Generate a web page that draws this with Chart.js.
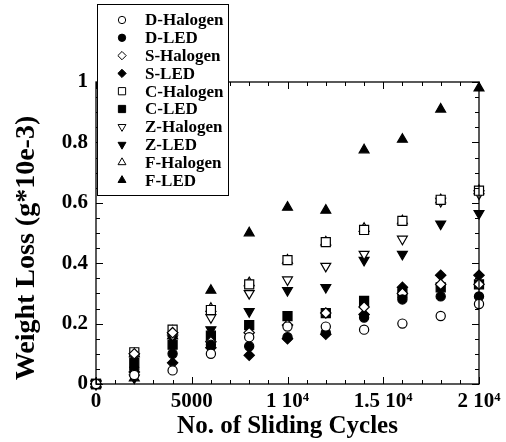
<!DOCTYPE html>
<html lang="en">
<head>
<meta charset="UTF-8">
<title>Weight Loss vs Sliding Cycles</title>
<script src="https://cdn.jsdelivr.net/npm/chart.js"></script>
<style>
  body { margin: 0; background: #fff; }
  #wrap { width: 506px; height: 442px; }
</style>
</head>
<body>
<div id="wrap"><canvas id="chart" width="506" height="442"></canvas></div>
<script>
// sliding cycles (x)
var cycles = [0, 2000, 4000, 6000, 8000, 10000, 12000, 14000, 16000, 18000, 20000];

// weight loss (g*10e-3)
var dHalogen = [0, 0.03, 0.045, 0.10, 0.155, 0.19, 0.19, 0.18, 0.20, 0.225, 0.265];
var dLed     = [0, 0.05, 0.10, 0.13, 0.125, 0.155, 0.17, 0.22, 0.28, 0.29, 0.29];
var sHalogen = [0, 0.10, 0.17, 0.14, 0.17, 0.195, 0.235, 0.255, 0.30, 0.33, 0.33];
var sLed     = [0, 0.04, 0.07, 0.12, 0.095, 0.15, 0.165, 0.23, 0.32, 0.36, 0.36];
var cHalogen = [0, 0.105, 0.18, 0.245, 0.33, 0.41, 0.47, 0.51, 0.54, 0.61, 0.64];
var cLed     = [0, 0.07, 0.13, 0.16, 0.195, 0.225, 0.235, 0.275, 0.30, 0.32, 0.33];
var zHalogen = [0, 0.09, 0.16, 0.22, 0.30, 0.345, 0.39, 0.43, 0.48, 0.605, 0.63];
var zLed     = [0, 0.02, 0.15, 0.18, 0.24, 0.31, 0.32, 0.41, 0.43, 0.53, 0.565];
var fHalogen = [0, 0.10, 0.175, 0.25, 0.335, 0.41, 0.47, 0.515, 0.54, 0.61, 0.64];
var fLed     = [0, 0.02, 0.16, 0.31, 0.50, 0.585, 0.575, 0.775, 0.81, 0.91, 0.98];

var seriesNames = ['D-Halogen', 'D-LED', 'S-Halogen', 'S-LED', 'C-Halogen', 'C-LED',
                   'Z-Halogen', 'Z-LED', 'F-Halogen', 'F-LED'];
var seriesValues = [dHalogen, dLed, sHalogen, sLed, cHalogen, cLed, zHalogen, zLed, fHalogen, fLed];

var xTicks = [0, 5000, 10000, 15000, 20000];
var xTickLabels = ['0', '5000', '1 10\u2074', '1.5 10\u2074', '2 10\u2074'];
var yTicks = [0, 0.2, 0.4, 0.6, 0.8, 1];
var yTickLabels = ['0', '0.2', '0.4', '0.6', '0.8', '1'];

// marker look per series: [pointStyle, rotation, filled, radius]
var markers = [
  ['circle', 0, false, 4.6], ['circle', 0, true, 4.6],
  ['rectRot', 0, false, 5.2], ['rectRot', 0, true, 5.2],
  ['rect', 0, false, 6.4], ['rect', 0, true, 6.4],
  ['triangle', 180, false, 5.7], ['triangle', 180, true, 5.7],
  ['triangle', 0, false, 5.7], ['triangle', 0, true, 5.7]
];

var serif = "'Liberation Serif', 'Times New Roman', serif";

var datasets = seriesNames.map(function (name, i) {
  var m = markers[i];
  return {
    label: name,
    data: cycles.map(function (c, j) { return { x: c, y: seriesValues[i][j] }; }),
    pointStyle: m[0],
    pointRotation: m[1],
    pointRadius: m[3],
    pointBorderWidth: 1.2,
    pointBorderColor: '#000',
    pointBackgroundColor: m[2] ? '#000' : '#fff',
    showLine: false,
    clip: false
  };
});

// little marker painter for the legend box
function drawMarker(ctx, style, rot, filled, x, y, r) {
  ctx.save();
  ctx.translate(x, y);
  ctx.rotate(rot * Math.PI / 180);
  ctx.beginPath();
  if (style === 'circle') {
    ctx.arc(0, 0, r, 0, Math.PI * 2);
  } else if (style === 'rect') {
    var s = r * Math.SQRT1_2;
    ctx.rect(-s, -s, 2 * s, 2 * s);
  } else if (style === 'rectRot') {
    ctx.moveTo(0, -r); ctx.lineTo(r, 0); ctx.lineTo(0, r); ctx.lineTo(-r, 0); ctx.closePath();
  } else {
    ctx.moveTo(0, -r);
    ctx.lineTo(r * Math.cos(Math.PI / 6), r / 2);
    ctx.lineTo(-r * Math.cos(Math.PI / 6), r / 2);
    ctx.closePath();
  }
  ctx.fillStyle = filled ? '#000' : '#fff';
  ctx.fill();
  ctx.lineWidth = 1;
  ctx.strokeStyle = '#000';
  ctx.stroke();
  ctx.restore();
}

var framePlugin = {
  id: 'frame',
  afterDraw: function (chart) {
    var ctx = chart.ctx, a = chart.chartArea;
    var xs = chart.scales.x, ys = chart.scales.y;
    ctx.save();
    ctx.strokeStyle = '#000';
    ctx.lineWidth = 1.3;
    ctx.strokeRect(a.left, a.top, a.right - a.left, a.bottom - a.top);

    ctx.lineWidth = 1;
    ctx.beginPath();
    for (var i = 0; i <= 20; i++) {
      var px = Math.round(xs.getPixelForValue(i * 1000)) + 0.5;
      var len = (i % 5 === 0) ? 7 : 4;
      ctx.moveTo(px, a.bottom); ctx.lineTo(px, a.bottom - len);
      ctx.moveTo(px, a.top); ctx.lineTo(px, a.top + len);
    }
    for (var k = 0; k <= 20; k++) {
      var py = Math.round(ys.getPixelForValue(k * 0.05)) + 0.5;
      var l2 = (k % 4 === 0) ? 7 : 4;
      ctx.moveTo(a.left, py); ctx.lineTo(a.left + l2, py);
      ctx.moveTo(a.right, py); ctx.lineTo(a.right - l2, py);
    }
    ctx.stroke();

    // y axis title, centred a little below the plot middle like the original
    ctx.save();
    ctx.translate(27, 248);
    ctx.rotate(-Math.PI / 2);
    ctx.fillStyle = '#000';
    ctx.font = 'bold 28px ' + serif;
    ctx.textAlign = 'center';
    ctx.textBaseline = 'middle';
    ctx.fillText('Weight Loss (g*10e-3)', 0, 0);
    ctx.restore();

    // legend box (sits over the top-left of the frame)
    var bx = 97, by = 4, bw = 131, rowH = 17.8;
    var bh = 191;
    ctx.fillStyle = '#fff';
    ctx.fillRect(bx, by, bw, bh);
    ctx.lineWidth = 1;
    ctx.strokeRect(bx + 0.5, by + 0.5, bw, bh);
    ctx.font = 'bold 17px ' + serif;
    ctx.textBaseline = 'middle';
    seriesNames.forEach(function (name, i) {
      var m = markers[i];
      var cy = by + 16 + i * rowH;
      drawMarker(ctx, m[0], m[1], m[2], 122, cy, m[3] * 0.8);
      ctx.fillStyle = '#000';
      ctx.fillText(name, 145, cy + 1);
    });
    ctx.restore();
  }
};

new Chart(document.getElementById('chart'), {
  type: 'scatter',
  data: { datasets: datasets },
  options: {
    responsive: false,
    animation: false,
    layout: { padding: { left: 0, right: 27, top: 82, bottom: 0 } },
    plugins: { legend: { display: false }, tooltip: { enabled: false } },
    scales: {
      x: {
        type: 'linear',
        min: 0,
        max: 20000,
        afterFit: function (s) { s.height = 58; },
        afterBuildTicks: function (s) { s.ticks = xTicks.map(function (v) { return { value: v }; }); },
        grid: { display: false, drawTicks: false },
        border: { display: false },
        ticks: {
          padding: 5,
          color: '#000',
          font: { family: serif, size: 21, weight: 'bold' },
          maxRotation: 0,
          callback: function (v) { return xTickLabels[xTicks.indexOf(v)]; }
        },
        title: {
          display: true,
          text: 'No. of Sliding Cycles',
          color: '#000',
          font: { family: serif, size: 25, weight: 'bold' },
          padding: { top: 7, bottom: 0 }
        }
      },
      y: {
        type: 'linear',
        min: 0,
        max: 1,
        afterFit: function (s) { s.width = 96; },
        afterBuildTicks: function (s) { s.ticks = yTicks.map(function (v) { return { value: v }; }); },
        grid: { display: false, drawTicks: false },
        border: { display: false },
        ticks: {
          padding: 8,
          color: '#000',
          font: { family: serif, size: 21, weight: 'bold' },
          callback: function (v) { return yTickLabels[yTicks.indexOf(v)]; }
        }
      }
    }
  },
  plugins: [framePlugin]
});
</script>
</body>
</html>
